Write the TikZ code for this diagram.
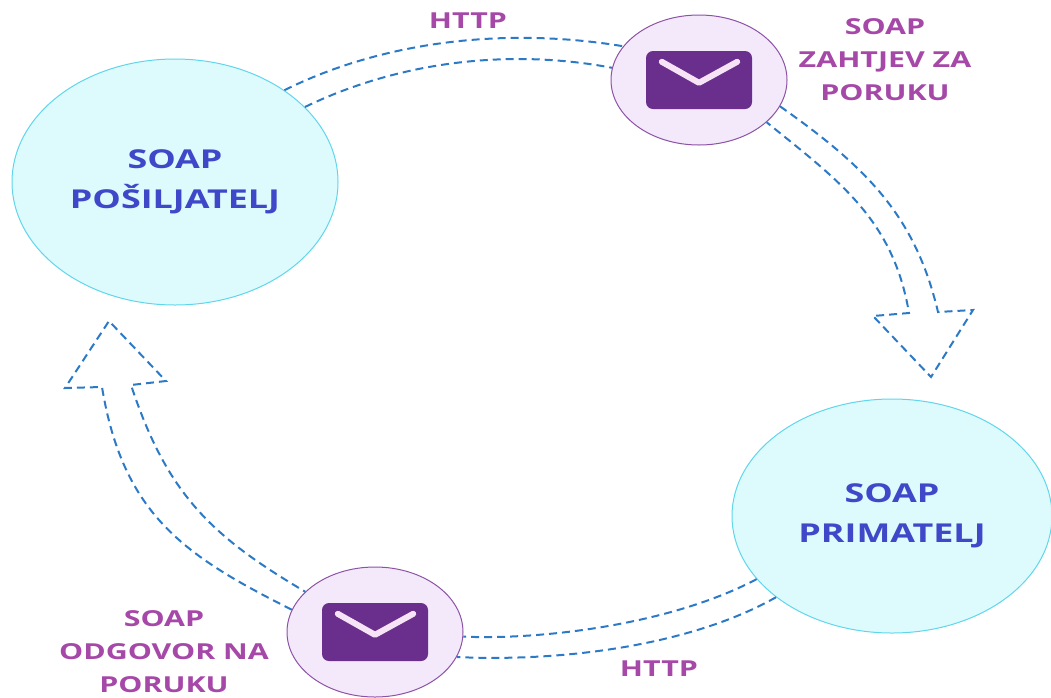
\documentclass[tikz,border=0pt]{standalone}
\usepackage{fontspec}
\setmainfont{Open Sans}[FakeStretch=1.38]
\usepackage{tikz}
\usetikzlibrary{shapes.geometric}
\definecolor{partyfill}{RGB}{221,250,253}
\definecolor{partyline}{RGB}{96,214,236}
\definecolor{partytext}{RGB}{63,72,200}
\definecolor{bubblefill}{RGB}{244,233,251}
\definecolor{bubbleline}{RGB}{140,82,166}
\definecolor{iconfill}{RGB}{106,46,140}
\definecolor{labeltext}{RGB}{165,72,168}
\definecolor{flowblue}{RGB}{44,122,198}
\tikzstyle{party} = [draw=partyline, fill=partyfill, ellipse, line width=1pt,
    text=partytext, font=\fontsize{26}{40}\selectfont\bfseries, align=center]
\tikzstyle{mailbubble} = [draw=bubbleline, fill=bubblefill, ellipse, line width=1pt,
    minimum width=176pt, minimum height=130pt]
\tikzstyle{mailicon} = [fill=iconfill, rectangle, rounded corners=7pt,
    minimum width=106pt, minimum height=58pt]
\tikzstyle{chevron} = [draw={rgb,255:red,246;green,228;blue,246}, line width=6pt,
    line cap=round, line join=round]
\tikzstyle{msglabel} = [text=labeltext, font=\fontsize{22}{33}\selectfont\bfseries, align=center]
\tikzstyle{flow} = [draw=flowblue, line width=2pt, dash pattern=on 8pt off 5pt]

\begin{document}
\begin{tikzpicture}[x=1pt,y=-1pt]
\useasboundingbox (0,0) rectangle (1051,697);
% sudionici
\node [party, minimum width=326pt, minimum height=246pt] (snd) at (175,182) {SOAP\\POŠILJATELJ};
\node [party, minimum width=320pt, minimum height=234pt] (rcv) at (892,516) {SOAP\\PRIMATELJ};
% poruke
\node [mailbubble] (req) at (699,80) {};
\node [mailicon] (reqicon) at (req) {};
\draw [chevron] ([shift={(16,11)}]reqicon.north west) -- ([shift={(0,32)}]reqicon.north)
    -- ([shift={(-15,11)}]reqicon.north east);
\node [mailbubble] (resp) at (375,632) {};
\node [mailicon] (respicon) at (resp) {};
\draw [chevron] ([shift={(16,11)}]respicon.north west) -- ([shift={(0,32)}]respicon.north)
    -- ([shift={(-15,11)}]respicon.north east);
\node [msglabel] (reqlabel) at (885,60) {SOAP\\ZAHTJEV ZA\\PORUKU};
\node [msglabel] (resplabel) at (164,652) {SOAP\\ODGOVOR NA\\PORUKU};
\node [msglabel] (httptop) at (468,21) {HTTP};
\node [msglabel] (httpbottom) at (659,669) {HTTP};
% tokovi
\draw [flow] (snd.40) .. controls (379,43) and (501,26) .. (req.156);
\draw [flow] (snd.30) .. controls (398,62) and (508,48) .. (req.172);
\draw [flow] (req.-18) .. controls (866,167) and (915,215) .. (938,312) -- (973,310)
    -- (931,377) -- (873,316) -- (909,313) .. controls (893,219) and (839,181) .. (req.-32);
\draw [flow] (rcv.205) .. controls (670,625) and (540,640) .. (resp.-3);
\draw [flow] (rcv.215) .. controls (690,646) and (560,662) .. (resp.-17);
\draw [flow] (resp.165) .. controls (185,556) and (123,515) .. (102,387) -- (65,388)
    -- (109,321) -- (166,381) -- (131,385) .. controls (167,494) and (211,536) .. (resp.150);
\end{tikzpicture}
\end{document}
